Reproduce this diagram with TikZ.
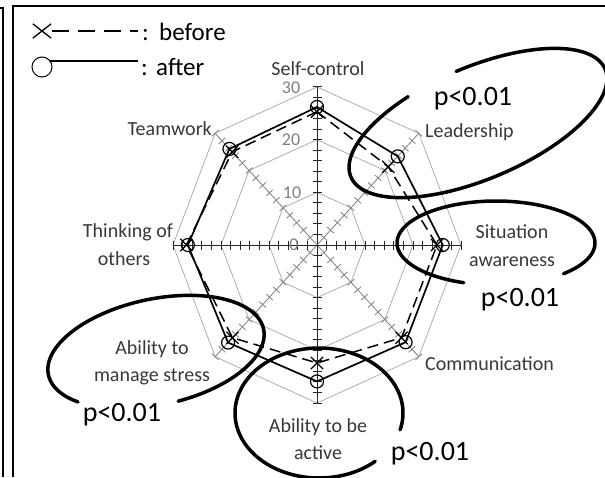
\documentclass[tikz,border=0pt]{standalone}
\usepackage{fontspec}
\setmainfont{Carlito}
\usetikzlibrary{shapes.misc}
\begin{document}
\begin{tikzpicture}[x=1pt,y=-1pt,
  gridline/.style={draw=black!35, line width=0.7pt},
  mainaxis/.style={draw=black!85, line width=1pt},
  diagaxis/.style={draw=black!50, line width=0.8pt},
  afterline/.style={draw=black, line width=1.7pt, line join=round},
  beforeline/.style={draw=black, line width=1.5pt, dash pattern=on 11pt off 6pt, line join=round},
  aftermark/.style={circle, draw=black, line width=1.2pt, minimum size=13pt, inner sep=0pt},
  beforemark/.style={cross out, draw=black, line width=1.2pt, minimum size=11pt, inner sep=0pt},
  catlabel/.style={text=black!78, font=\fontsize{20}{24}\selectfont, inner sep=0pt},
  numlabel/.style={text=black!50, font=\fontsize{18}{20}\selectfont, inner sep=0pt},
  plabel/.style={text=black, font=\fontsize{28}{32}\selectfont, inner sep=0pt},
  legtext/.style={text=black, font=\fontsize{25}{28}\selectfont, inner sep=0pt},
  sigring/.style={draw=black, line width=3.5pt, line cap=round},
  frame/.style={draw=black, line width=1.3pt}
]
\useasboundingbox[fill=white] (0,0) rectangle (605,477);
\def\radx{4.8}
\def\rady{5.267}
\coordinate (O) at (317,245);
% grid octagons
\foreach \r in {10,20,30}{
  \draw[gridline] (317,{245-\r*\rady}) \foreach \k in {1,...,7}{ -- ({317+\r*\radx*sin(45*\k)},{245-\r*\rady*cos(45*\k)}) } -- cycle;
}
% axes with ticks
\foreach \k/\sty in {0/mainaxis,1/diagaxis,2/mainaxis,3/diagaxis,4/mainaxis,5/diagaxis,6/mainaxis,7/diagaxis}{
  \pgfmathsetmacro\ux{\radx*sin(45*\k)}
  \pgfmathsetmacro\uy{-\rady*cos(45*\k)}
  \pgfmathsetmacro\ul{sqrt((\ux)*(\ux)+(\uy)*(\uy))}
  \pgfmathsetmacro\tx{-4.5*(\uy)/\ul}
  \pgfmathsetmacro\ty{4.5*(\ux)/\ul}
  \coordinate (E\k) at ({317+30*\ux},{245+30*\uy});
  \draw[\sty] (O) -- (E\k);
  \foreach \v in {2,4,...,30}{
    \draw[\sty] ({317+\v*\ux+\tx},{245+\v*\uy+\ty}) -- ({317+\v*\ux-\tx},{245+\v*\uy-\ty});
  }
}
% scale numbers
\node[numlabel] (n30) at (291,88) {30};
\node[numlabel] (n20) at (291,140) {20};
\node[numlabel] (n10) at (292,193) {10};
\node[numlabel] (n0) at (294,245) {0};
% data
\foreach \k/\a/\b in {0/26.2/25.3, 1/23.8/21, 2/26.2/25, 3/26.1/24.9, 4/25.9/22.4, 5/26.2/24.9, 6/26.9/27.2, 7/25.8/25}{
  \coordinate (A\k) at ({317+\a*\radx*sin(45*\k)},{245-\a*\rady*cos(45*\k)});
  \coordinate (B\k) at ({317+\b*\radx*sin(45*\k)},{245-\b*\rady*cos(45*\k)});
}
\draw[beforeline] (B0) -- (B1) -- (B2) -- (B3) -- (B4) -- (B5) -- (B6) -- (B7) -- cycle;
\draw[afterline] (A0) -- (A1) -- (A2) -- (A3) -- (A4) -- (A5) -- (A6) -- (A7) -- cycle;
\foreach \k in {0,...,7}{
  \node[aftermark] (am\k) at (A\k) {};
  \node[beforemark] (bm\k) at (B\k) {};
}
% category labels
\node[catlabel, anchor=base] (lsc) at (318,75) {Self-control};
\node[catlabel, anchor=base west] (lld) at (425,137) {Leadership};
\node[catlabel, anchor=base] (lsa1) at (512,238) {Situation};
\node[catlabel, anchor=base] (lsa2) at (512,266) {awareness};
\node[catlabel, anchor=base west] (lcm) at (425,370) {Communication};
\node[catlabel, anchor=base] (lac1) at (318,432) {Ability to be};
\node[catlabel, anchor=base] (lac2) at (318,459) {active};
\node[catlabel, anchor=base] (lms1) at (152,354) {Ability to};
\node[catlabel, anchor=base] (lms2) at (152,381) {manage stress};
\node[catlabel, anchor=base] (lto1) at (128,237) {Thinking of};
\node[catlabel, anchor=base] (lto2) at (124,265) {others};
\node[catlabel, anchor=base east] (ltw) at (212,135) {Teamwork};
% significance rings (open ellipses)
\draw[sigring] plot[domain=-90:247, samples=140, variable=\t] ({478+138*cos(\t)*0.921+56*sin(\t)*0.391},{123-138*cos(\t)*0.391+56*sin(\t)*0.921});
\draw[sigring] plot[domain=109:407, samples=120, variable=\t] ({496+99*cos(\t)},{243+42*sin(\t)});
\draw[sigring] plot[domain=142:444, samples=120, variable=\t] ({156+110*cos(\t)*0.978+53*sin(\t)*0.208},{352-110*cos(\t)*0.208+53*sin(\t)*0.978});
\draw[sigring] plot[domain=48:375, samples=120, variable=\t] ({319+84*cos(\t)},{413+65*sin(\t)});
\node[plabel, anchor=base] (p1) at (473,105) {p<0.01};
\node[plabel, anchor=base] (p2) at (520,306) {p<0.01};
\node[plabel, anchor=base] (p3) at (122,421) {p<0.01};
\node[plabel, anchor=base] (p4) at (430,460) {p<0.01};
% legend
\node[cross out, draw=black, line width=1.3pt, minimum width=17pt, minimum height=13pt, inner sep=0pt] (legx) at (42,31) {};
\coordinate (lb1) at (52,31);
\coordinate (lb2) at (138,31);
\draw[black, line width=1.5pt, dash pattern=on 17pt off 9pt] (lb1) -- (lb2);
\node[legtext, anchor=base west] (lbc) at (142,40) {:};
\node[legtext, anchor=base west] (lbt) at (159,40) {before};
\node[circle, draw=black, line width=1pt, minimum size=20pt, inner sep=0pt] (lego) at (42,67) {};
\coordinate (la1) at (50,61);
\coordinate (la2) at (138,61);
\draw[black, line width=1.5pt] (la1) -- (la2);
\node[legtext, anchor=base west] (lac) at (141,75) {:};
\node[legtext, anchor=base west] (lat) at (156,75) {after};
% frame
\coordinate (f1) at (0,8);
\coordinate (f2) at (3,8);
\coordinate (f3) at (3,477);
\coordinate (g1) at (605,6);
\coordinate (g2) at (13,6);
\coordinate (g3) at (13,477);
\draw[frame] (f1) -- (f2) -- (f3);
\draw[frame] (g1) -- (g2) -- (g3);
\end{tikzpicture}
\end{document}
